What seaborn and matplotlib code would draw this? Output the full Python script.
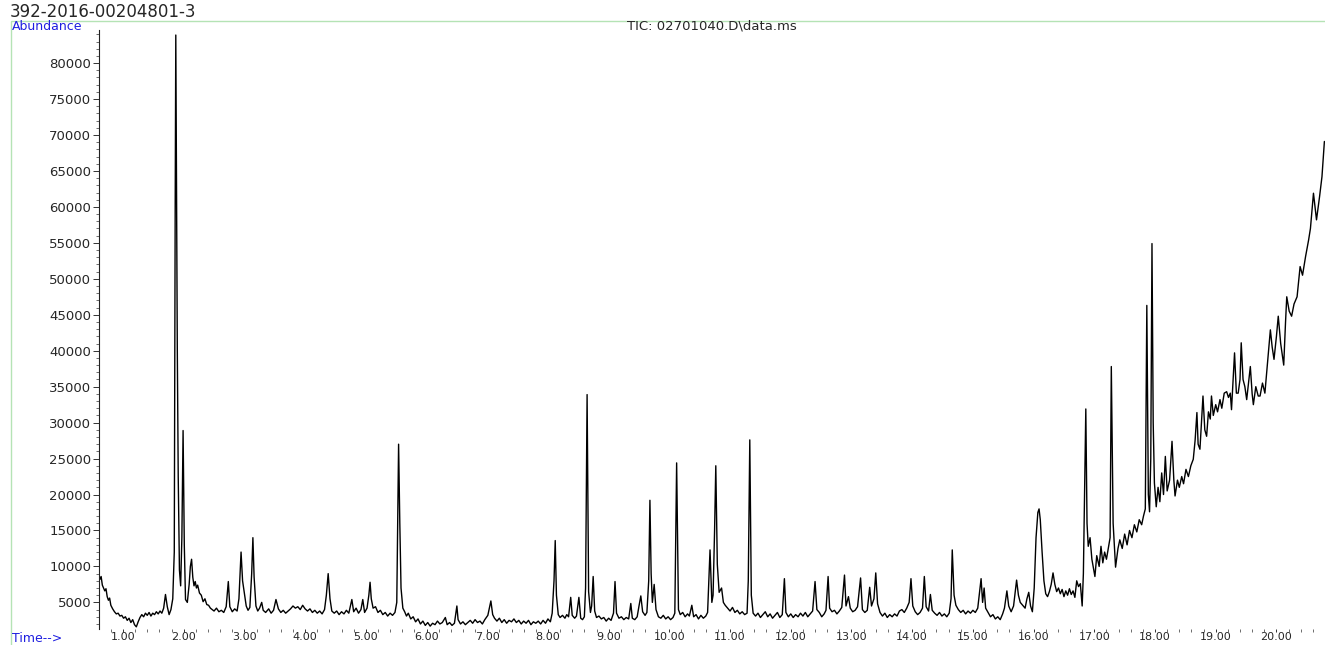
import matplotlib.pyplot as plt
import matplotlib.ticker as mticker
import seaborn as sns
import pandas as pd

from matplotlib.patches import Rectangle


# ------------------- TIC chromatogram -------------------
sample_id = "392-2016-00204801-3"
trace_name = "TIC: 02701040.D\\data.ms"

# (retention time [min], abundance)
solvent_region = [
    (0.60, 9000), (0.62, 8200), (0.64, 8600), (0.66, 7400), (0.68, 7000), (0.70, 6600),
    (0.72, 6900), (0.74, 5800), (0.76, 5300), (0.78, 5600), (0.80, 4600), (0.83, 4100),
    (0.86, 3700), (0.89, 3400), (0.92, 3500), (0.95, 3100), (0.98, 3200), (1.01, 2800),
    (1.04, 3000), (1.07, 2500), (1.10, 2800), (1.13, 2200), (1.16, 2600), (1.19, 1900),
    (1.22, 1600), (1.25, 2300), (1.28, 2900), (1.31, 3300), (1.34, 3000), (1.37, 3500),
    (1.40, 3200), (1.43, 3600), (1.46, 3100), (1.49, 3500), (1.52, 3300), (1.55, 3700),
    (1.58, 3400), (1.61, 3800), (1.64, 3500), (1.67, 4200), (1.70, 6100), (1.73, 4400),
    (1.76, 3300), (1.79, 4000), (1.82, 5500), (1.845, 12000), (1.86, 60000), (1.87, 83900),
    (1.88, 65000), (1.895, 40000), (1.91, 22500), (1.93, 9500), (1.95, 7300), (1.97, 14000),
    (1.99, 28900), (2.01, 13000), (2.03, 5400), (2.06, 5000), (2.09, 7500), (2.11, 10000),
    (2.13, 11000), (2.15, 8500), (2.17, 7300), (2.19, 7900), (2.21, 7000), (2.23, 7400),
    (2.26, 6300), (2.29, 6000), (2.32, 5100), (2.35, 5500), (2.38, 4700), (2.41, 4600),
    (2.44, 4200), (2.47, 4000), (2.50, 3800), (2.54, 4200), (2.58, 3700), (2.62, 3900),
    (2.66, 3600), (2.70, 4400), (2.735, 7900), (2.76, 4400), (2.80, 3700), (2.84, 4100),
    (2.88, 3800), (2.91, 5500), (2.945, 12000), (2.97, 8000), (3.00, 6300), (3.03, 4500),
    (3.06, 3900), (3.09, 4300), (3.12, 9000), (3.14, 14000), (3.16, 8500), (3.19, 4500),
    (3.22, 3800), (3.25, 4200), (3.285, 5000), (3.31, 3900), (3.35, 3600), (3.40, 4100),
    (3.44, 3500), (3.48, 3900), (3.52, 5400), (3.56, 4100), (3.60, 3600), (3.64, 3900),
    (3.68, 3500), (3.72, 3800), (3.76, 4100), (3.80, 4500), (3.84, 4200), (3.88, 4400),
    (3.92, 4000), (3.96, 4600), (4.00, 4100), (4.04, 3800), (4.08, 4100), (4.12, 3600),
    (4.16, 3900), (4.20, 3500), (4.24, 3800), (4.28, 3400), (4.32, 4000), (4.35, 6000),
    (4.38, 9000), (4.41, 5500), (4.44, 3800), (4.48, 3500), (4.52, 3800), (4.56, 3300),
    (4.60, 3700), (4.64, 3400), (4.68, 3900), (4.72, 3500), (4.77, 5400), (4.80, 3700),
    (4.84, 4200), (4.88, 3500), (4.92, 4000), (4.95, 5400), (4.98, 3600), (5.02, 4200),
    (5.05, 6000), (5.07, 7800), (5.09, 5500), (5.12, 4200), (5.16, 4400), (5.20, 3600),
    (5.24, 3900), (5.28, 3300), (5.32, 3600), (5.36, 3100), (5.40, 3500), (5.44, 3200),
    (5.48, 3600), (5.51, 5000), (5.53, 20000), (5.54, 27000), (5.56, 16000), (5.58, 7000),
    (5.61, 4200), (5.64, 3700), (5.67, 3100), (5.70, 3500), (5.74, 2700), (5.78, 3000),
    (5.82, 2300), (5.86, 2700), (5.90, 2000), (5.94, 2400), (5.98, 1800), (6.02, 2200),
    (6.06, 1700), (6.10, 2100), (6.14, 1900), (6.18, 2400), (6.22, 2000), (6.26, 2200),
    (6.31, 2900), (6.34, 1900), (6.38, 2200), (6.42, 1800), (6.46, 2100), (6.50, 4500),
    (6.52, 2600), (6.56, 2000), (6.60, 2300), (6.64, 1900), (6.68, 2200), (6.72, 2500),
    (6.76, 2100), (6.80, 2600), (6.84, 2200), (6.88, 2400), (6.92, 2000), (6.96, 2600),
    (7.01, 3200), (7.04, 4400), (7.06, 5200), (7.09, 3300), (7.12, 2800), (7.16, 2400),
    (7.20, 2800), (7.24, 2200), (7.28, 2600), (7.32, 2100), (7.36, 2500), (7.40, 2300),
    (7.44, 2700), (7.48, 2200),
]

middle_region = [
    (7.52, 2500), (7.56, 2000), (7.60, 2400), (7.64, 2100), (7.68, 2500), (7.72, 1900),
    (7.76, 2300), (7.80, 2100), (7.84, 2400), (7.88, 2000), (7.92, 2500), (7.96, 2100),
    (8.00, 2700), (8.04, 2300), (8.07, 3500), (8.10, 8000), (8.12, 13600), (8.14, 6000),
    (8.17, 3300), (8.20, 2900), (8.24, 3200), (8.28, 2800), (8.31, 3300), (8.34, 3000),
    (8.375, 5700), (8.40, 3200), (8.44, 2800), (8.47, 3100), (8.51, 5700), (8.54, 2800),
    (8.57, 2600), (8.60, 3000), (8.62, 7000), (8.645, 33900), (8.67, 6500), (8.70, 3600),
    (8.72, 4500), (8.745, 8600), (8.77, 3800), (8.80, 2900), (8.84, 3100), (8.88, 2700),
    (8.92, 2900), (8.96, 2400), (9.00, 2800), (9.04, 2500), (9.08, 3500), (9.105, 7900),
    (9.13, 3500), (9.17, 2800), (9.21, 3000), (9.25, 2600), (9.29, 2900), (9.33, 2700),
    (9.365, 4850), (9.39, 2800), (9.43, 2600), (9.47, 3000), (9.50, 4500), (9.53, 5900),
    (9.56, 3700), (9.60, 3200), (9.63, 3600), (9.66, 8000), (9.68, 19200), (9.70, 9000),
    (9.72, 5000), (9.75, 7500), (9.78, 4000), (9.82, 3000), (9.86, 2800), (9.90, 3200),
    (9.94, 2700), (9.98, 3000), (10.02, 2600), (10.06, 2900), (10.09, 3500), (10.12, 24400),
    (10.15, 4000), (10.18, 3300), (10.22, 3600), (10.26, 3000), (10.30, 3400), (10.33, 3100),
    (10.37, 4600), (10.40, 3000), (10.44, 3300), (10.48, 2700), (10.52, 3200), (10.56, 2800),
    (10.60, 3100), (10.63, 3600), (10.67, 12300), (10.70, 5000), (10.72, 6000), (10.745, 15000),
    (10.765, 24000), (10.79, 10300), (10.82, 6400), (10.86, 7000), (10.89, 5000), (10.92, 4600),
    (10.96, 4200), (11.00, 3800), (11.04, 4300), (11.08, 3600), (11.12, 3900), (11.16, 3400),
    (11.20, 3700), (11.24, 3300), (11.28, 3500), (11.30, 8000), (11.325, 27600), (11.35, 6000),
    (11.38, 3500), (11.42, 3100), (11.46, 3500), (11.50, 2900), (11.54, 3300), (11.58, 3700),
    (11.62, 3000), (11.66, 3400), (11.70, 2800), (11.74, 3200), (11.78, 3600), (11.82, 2900),
    (11.86, 3300), (11.895, 8300), (11.92, 3600), (11.96, 3000), (12.00, 3400), (12.04, 2900),
    (12.08, 3300), (12.12, 3000), (12.16, 3500), (12.20, 3100), (12.24, 3600), (12.28, 3000),
    (12.32, 3400), (12.36, 3800), (12.40, 7900), (12.43, 4000), (12.47, 3600), (12.51, 3000),
    (12.55, 3400), (12.58, 3900), (12.615, 8600), (12.64, 4200), (12.68, 3700), (12.72, 3900),
    (12.76, 3400), (12.80, 3800), (12.84, 4300), (12.885, 8800), (12.91, 4500), (12.95, 5800),
    (12.98, 4200), (13.02, 3700), (13.06, 3900), (13.10, 4400), (13.15, 8400), (13.18, 4000),
    (13.22, 3600), (13.26, 3900), (13.30, 7100), (13.33, 4500), (13.37, 5500), (13.40, 9100),
    (13.43, 4800), (13.47, 3600), (13.51, 3100), (13.55, 3500), (13.59, 2900), (13.63, 3300),
    (13.67, 3000), (13.71, 3400), (13.75, 3100), (13.79, 3800), (13.83, 4000), (13.87, 3600),
    (13.91, 4200), (13.95, 5000),
]

late_region = [
    (13.98, 8300), (14.01, 4500), (14.05, 3700), (14.09, 3300), (14.13, 3600), (14.17, 4200),
    (14.20, 8600), (14.23, 4400), (14.27, 3800), (14.30, 6100), (14.33, 3900), (14.37, 3500),
    (14.41, 3200), (14.45, 3600), (14.49, 3100), (14.53, 3400), (14.57, 3000), (14.61, 3500),
    (14.64, 5500), (14.66, 12300), (14.69, 6000), (14.72, 4600), (14.76, 4000), (14.80, 3600),
    (14.84, 3900), (14.88, 3400), (14.92, 3800), (14.96, 3500), (15.00, 3900), (15.04, 3600),
    (15.08, 4200), (15.135, 8300), (15.16, 5000), (15.185, 7000), (15.21, 4200), (15.25, 3600),
    (15.29, 3000), (15.33, 3300), (15.37, 2700), (15.41, 3000), (15.45, 2600), (15.49, 3400),
    (15.52, 4200), (15.56, 6600), (15.59, 4500), (15.63, 3700), (15.67, 4500), (15.72, 8100),
    (15.75, 6000), (15.78, 5000), (15.82, 4600), (15.86, 4200), (15.89, 5500), (15.92, 6400),
    (15.95, 4500), (15.98, 3700), (16.01, 7000), (16.04, 14000), (16.07, 17500), (16.09, 18000),
    (16.11, 16500), (16.14, 12000), (16.17, 8000), (16.20, 6200), (16.23, 5800), (16.26, 6500),
    (16.29, 7500), (16.32, 9100), (16.35, 7500), (16.38, 6500), (16.41, 7000), (16.44, 6200),
    (16.47, 6800), (16.50, 5800), (16.53, 6600), (16.56, 6000), (16.59, 6900), (16.62, 6100),
    (16.65, 6600), (16.68, 5700), (16.71, 8000), (16.74, 7200), (16.77, 7600), (16.80, 4500),
    (16.82, 9000), (16.84, 20000), (16.86, 31900), (16.88, 16000), (16.90, 12800), (16.93, 14000),
    (16.96, 11000), (17.01, 8600), (17.04, 11500), (17.08, 10000), (17.11, 12800), (17.14, 10500),
    (17.17, 12000), (17.20, 11000), (17.23, 12500), (17.26, 14000), (17.28, 37800), (17.31, 16000),
    (17.35, 9900), (17.39, 12500), (17.42, 13700), (17.46, 12500), (17.50, 14500), (17.54, 13000),
    (17.58, 15000), (17.62, 14000), (17.66, 15800), (17.70, 14800), (17.74, 16500), (17.78, 15800),
    (17.81, 17000), (17.84, 18000), (17.865, 46300), (17.89, 20000), (17.91, 17600), (17.93, 25000),
    (17.95, 54900), (17.97, 30000), (17.99, 21600), (18.02, 18300), (18.05, 21000), (18.08, 19000),
    (18.11, 23000), (18.14, 20000), (18.17, 25300), (18.20, 20500), (18.24, 22000), (18.28, 27400),
    (18.31, 22000), (18.33, 19800), (18.37, 22000), (18.40, 21000), (18.44, 22500), (18.47, 21500),
    (18.51, 23500), (18.55, 22500), (18.59, 24000), (18.63, 24900), (18.66, 27500), (18.69, 31400),
    (18.71, 27000), (18.74, 26300), (18.79, 33700), (18.82, 29000), (18.85, 28100), (18.88, 31500),
    (18.91, 30500), (18.93, 33700), (18.96, 31000), (19.00, 32500), (19.03, 31500), (19.07, 33200),
    (19.10, 32000), (19.14, 34100), (19.18, 34300), (19.21, 33500), (19.24, 34100), (19.26, 31800),
    (19.31, 39700), (19.34, 34100), (19.37, 34100), (19.40, 36000), (19.42, 41100), (19.45, 36000),
    (19.48, 35000), (19.51, 33200), (19.54, 35500), (19.57, 37800), (19.60, 34000), (19.62, 32500),
    (19.66, 35000), (19.70, 33700), (19.73, 33700), (19.77, 35500), (19.81, 34100), (19.85, 38000),
    (19.90, 42900), (19.93, 40500), (19.96, 38800), (20.00, 42000), (20.03, 44800), (20.07, 41000),
    (20.12, 38000), (20.15, 44000), (20.17, 47500), (20.21, 45500), (20.25, 44800), (20.29, 46500),
    (20.34, 47500), (20.39, 51700), (20.43, 50500), (20.48, 53100), (20.53, 55400), (20.56, 57000),
    (20.61, 61900), (20.66, 58200), (20.71, 61400), (20.75, 64200), (20.79, 69100),
]

x_ticks = list(range(1, 21))
x_tick_labels = [f"{t}.00" for t in x_ticks]
y_ticks = list(range(5000, 80001, 5000))

sns.set_style("white")
plt.rcParams['font.family'] = ['DejaVu Sans']

df = pd.DataFrame(solvent_region + middle_region + late_region, columns=['time', 'abundance'])

W, H = 1325, 645
fig = plt.figure(figsize=(W / 100, H / 100), dpi=100)
ax = fig.add_axes([99 / W, 1 - 629 / H, 1 - 99 / W, (629 - 30) / H])

sns.lineplot(data=df, x='time', y='abundance', ax=ax, color='black',
             linewidth=1.0, sort=False, estimator=None)

ax.set_xlim(0.605, 20.8)
ax.set_ylim(1300, 84600)
ax.set_xlabel('')
ax.set_ylabel('')

# axis look of the instrument printout: left axis only, ticks below
for side in ['top', 'right', 'bottom']:
    ax.spines[side].set_visible(False)
ax.spines['left'].set_color('#222222')
ax.spines['left'].set_linewidth(0.8)

ax.set_xticks(x_ticks)
ax.set_xticklabels(x_tick_labels)
ax.xaxis.set_minor_locator(mticker.MultipleLocator(0.2))
ax.set_yticks(y_ticks)
ax.yaxis.set_minor_locator(mticker.MultipleLocator(1000))
ax.tick_params(axis='y', which='major', left=True, length=4, width=0.7,
               color='#333333', labelsize=9.5, pad=1.5)
ax.tick_params(axis='x', which='major', bottom=True, length=2.5, width=0.7,
               color='#333333', labelsize=8, pad=0)
ax.tick_params(axis='both', which='minor', bottom=True, left=True, length=2, width=0.6,
               color='#555555')

# light green page frame
fig.add_artist(Rectangle((11 / W, -0.01), 1.2, 1 - 21 / H + 0.01, transform=fig.transFigure,
                         fill=False, edgecolor='#b5e3b5', linewidth=1))

fig.text(10 / W, 1 - 12 / H, sample_id, fontsize=12, va='center', ha='left')
fig.text(12 / W, 1 - 27 / H, 'Abundance', fontsize=9, color='#1f1fe0', va='center', ha='left')
fig.text(712 / W, 1 - 26 / H, trace_name, fontsize=9.5, va='center', ha='center')
fig.text(12 / W, 1 - 638 / H, 'Time-->', fontsize=9, color='#1f1fe0', va='center', ha='left')

fig.savefig('out.png', dpi=100)
